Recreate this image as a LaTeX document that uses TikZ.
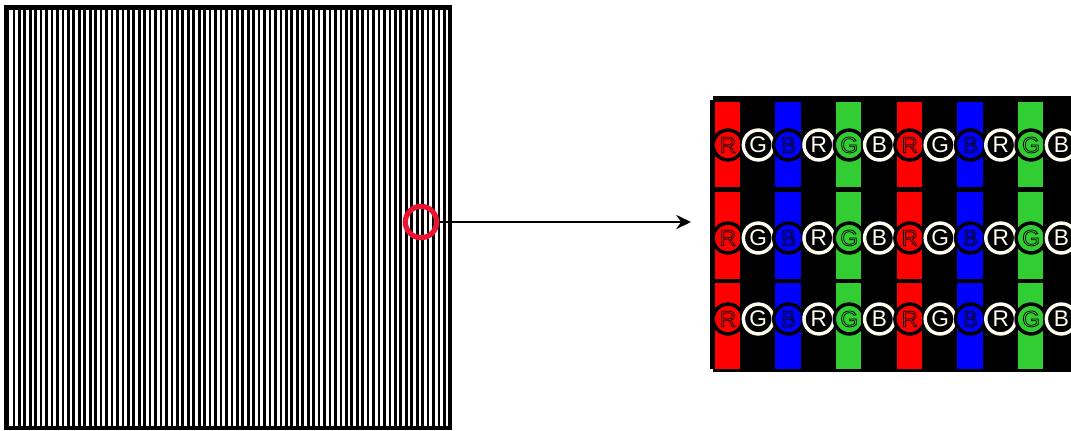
\documentclass[tikz,border=0pt]{standalone}
\usepackage{fontspec}
\setmainfont{Liberation Sans}
\usetikzlibrary{arrows.meta}
\definecolor{ringwhite}{RGB}{255,252,240}
\definecolor{magred}{RGB}{235,20,50}
\definecolor{pgreen}{RGB}{50,205,50}
\newcommand{\outl}[1]{\special{pdf:literal direct 0 0 0 RG 2 Tr 0.55 w}#1\special{pdf:literal direct 0 Tr}}
\tikzset{
  stripe/.style={fill=black},
  frame/.style={draw=black, line width=3.4pt},
  pixrow/.style={fill=black},
  darkring/.style={circle, draw=black, line width=2.6pt, minimum size=22.4pt, inner sep=0pt, font=\fontsize{17}{17}\selectfont},
  lightring/.style={circle, draw=ringwhite, text=ringwhite, line width=2.6pt, minimum size=22.4pt, inner sep=0pt, font=\fontsize{17}{17}\selectfont},
  magnifier/.style={circle, draw=magred, line width=3.9pt, minimum size=23.5pt, inner sep=0pt},
  pointer/.style={line width=2pt, -{Stealth[length=11pt,width=10.5pt]}}
}
\begin{document}
\begin{tikzpicture}[x=0.75pt, y=-0.75pt]
\useasboundingbox (0,0) rectangle (1071,430);
% left screen: vertical stripes
\foreach \i in {0,...,79} {
  \fill[stripe] ({12.5+\i*5.45},10) rectangle ++(2.7,416);
}
\draw[frame] (6.5,7.5) rectangle (450,428);
% magnifier circle
\node[magnifier] (mag) at (421,222) {};
% right panel
\fill[pixrow] (710,100) rectangle (1071,369);
\fill[pixrow] (713,96) rectangle (1071,372);
\foreach \k in {0,1} {
  \foreach \ya/\yb in {102/187, 192/279, 283/369} {
    \fill[red]    ({715+\k*182},\ya) rectangle ({740+\k*182},\yb);
    \fill[blue]   ({775+\k*182},\ya) rectangle ({801+\k*182},\yb);
    \fill[pgreen] ({836+\k*182},\ya) rectangle ({861+\k*182},\yb);
  }
}
% rings with letters
\foreach \r/\yy in {1/145, 2/238, 3/319} {
  \foreach \j/\L/\c in {0/R/red, 1/G/x, 2/B/blue, 3/R/x, 4/G/pgreen, 5/B/x, 6/R/red, 7/G/x, 8/B/blue, 9/R/x, 10/G/pgreen, 11/B/x} {
    \ifodd\j
      \node[lightring] (c\r-\j) at ({728+\j*30.3},\yy) {\L};
    \else
      \node[darkring, text=\c] (c\r-\j) at ({728+\j*30.3},\yy) {\outl{\L}};
    \fi
  }
}
\coordinate (tip) at (691,222);
\draw[pointer] (mag.east) -- (tip);
\end{tikzpicture}
\end{document}
